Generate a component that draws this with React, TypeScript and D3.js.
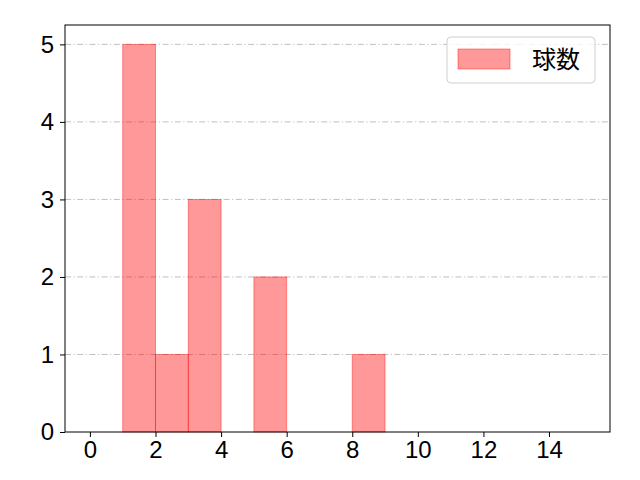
import { useEffect, useRef } from "react";
import * as d3 from "d3";

// histogram bins (left edge) and counts
const binStarts = [1, 2, 3, 5, 8];
const counts = [5, 1, 3, 2, 1];
const binWidth = 1;
const xTicks = [0, 2, 4, 6, 8, 10, 12, 14];
const yTicks = [0, 1, 2, 3, 4, 5];
const seriesName = "球数";

export default function App() {
  const ref = useRef<SVGSVGElement>(null);

  useEffect(() => {
    const svg = d3.select(ref.current);
    svg.selectAll("*").remove();

    const W = 640, H = 480;
    const M = { TOP: 25, RIGHT: 30, BOTTOM: 48, LEFT: 65 };
    const font = "'Noto Sans CJK JP', 'Noto Sans', sans-serif";
    const tickFont = "'Liberation Sans', Arial, sans-serif";

    const x = d3.scaleLinear().domain([-0.76, 15.86]).range([M.LEFT, W - M.RIGHT]);
    const y = d3.scaleLinear().domain([0, 5.25]).range([H - M.BOTTOM, M.TOP]);

    // grid
    svg.append("g")
      .selectAll("line")
      .data(yTicks.filter(t => t > 0))
      .join("line")
      .attr("x1", M.LEFT).attr("x2", W - M.RIGHT)
      .attr("y1", d => y(d)).attr("y2", d => y(d))
      .attr("stroke", "#b0b0b0")
      .attr("stroke-width", 0.8)
      .attr("stroke-dasharray", "6,2.5,1.2,2.5");

    // bars
    svg.append("g")
      .selectAll("rect")
      .data(binStarts.map((s, i) => ({ s, c: counts[i] })))
      .join("rect")
      .attr("x", d => x(d.s))
      .attr("width", d => x(d.s + binWidth) - x(d.s))
      .attr("y", d => y(d.c))
      .attr("height", d => y(0) - y(d.c))
      .attr("fill", "rgba(255,0,0,0.4)")
      .attr("stroke", "rgba(255,0,0,0.4)")
      .attr("stroke-width", 1);

    // axes
    const xAxis = svg.append("g")
      .attr("transform", `translate(0, ${H - M.BOTTOM})`)
      .call(d3.axisBottom(x).tickValues(xTicks).tickSize(5).tickPadding(4).tickSizeOuter(0).tickFormat(d3.format("d")));
    const yAxis = svg.append("g")
      .attr("transform", `translate(${M.LEFT}, 0)`)
      .call(d3.axisLeft(y).tickValues(yTicks).tickSize(5).tickPadding(6).tickSizeOuter(0).tickFormat(d3.format("d")));
    [xAxis, yAxis].forEach(a => {
      a.select(".domain").remove();
      a.selectAll("line").attr("stroke", "#000").attr("stroke-width", 1);
      a.selectAll("text").attr("font-family", tickFont).attr("font-size", 24).attr("fill", "#000");
    });

    // frame
    svg.append("rect")
      .attr("x", M.LEFT).attr("y", M.TOP)
      .attr("width", W - M.LEFT - M.RIGHT).attr("height", H - M.TOP - M.BOTTOM)
      .attr("fill", "none").attr("stroke", "#000").attr("stroke-width", 1);

    // legend
    const lg = svg.append("g").attr("transform", "translate(447, 37)");
    lg.append("rect")
      .attr("width", 148).attr("height", 46).attr("rx", 4)
      .attr("fill", "rgba(255,255,255,0.8)").attr("stroke", "#d0d0d0");
    lg.append("rect")
      .attr("x", 11).attr("y", 12).attr("width", 52).attr("height", 20)
      .attr("fill", "rgba(255,0,0,0.4)").attr("stroke", "rgba(255,0,0,0.4)");
    lg.append("text")
      .attr("x", 85).attr("y", 30.5)
      .attr("font-family", font).attr("font-size", 24)
      .text(seriesName);
  }, []);

  return <svg ref={ref} width={640} height={480} style={{ position: "absolute", left: 0, top: 0 }} />;
}
